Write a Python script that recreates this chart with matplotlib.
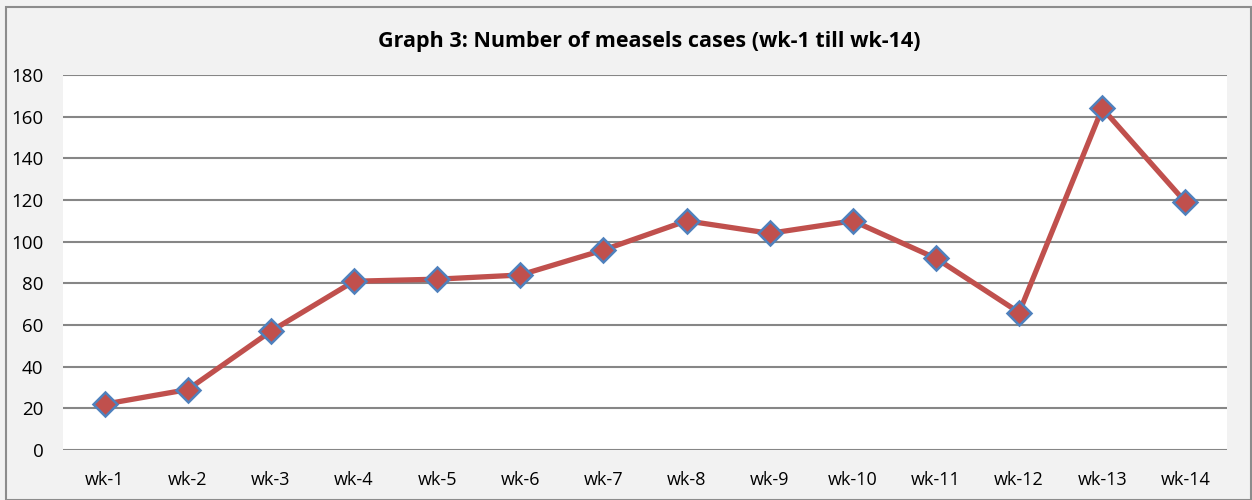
import matplotlib.pyplot as plt
from matplotlib.patches import Rectangle

weeks = ['wk-1', 'wk-2', 'wk-3', 'wk-4', 'wk-5', 'wk-6', 'wk-7',
         'wk-8', 'wk-9', 'wk-10', 'wk-11', 'wk-12', 'wk-13', 'wk-14']
cases = [22, 29, 57, 81, 82, 84, 96, 110, 104, 110, 92, 66, 164, 119]
y_ticks = list(range(0, 181, 20))


def draw():
    plt.rcParams['font.family'] = ['Open Sans', 'DejaVu Sans']
    fig = plt.figure(figsize=(12.52, 5.0), dpi=100, facecolor='#f2f2f2')
    fig.patches.append(Rectangle((6 / 1252, 0), 1 - 7 / 1252, 1 - 7 / 500,
                                 transform=fig.transFigure, fill=False,
                                 edgecolor='#8c8c8c', linewidth=1.5))
    ax = fig.add_axes([63 / 1252, 50 / 500, 1164 / 1252, 375 / 500])
    ax.set_facecolor('white')

    x = list(range(len(weeks)))
    ax.plot(x, cases, color='#c0504d', linewidth=3.8, marker='D',
            markersize=12, markerfacecolor='#c0504d',
            markeredgecolor='#4f81bd', markeredgewidth=1.8, zorder=3)

    ax.set_xlim(-0.5, len(weeks) - 0.5)
    ax.set_ylim(0, 180)
    ax.set_yticks(y_ticks)
    ax.set_xticks(x)
    ax.set_xticklabels(weeks)
    ax.grid(axis='y', color='#868686', linewidth=1.5)
    ax.set_axisbelow(True)
    for s in ax.spines.values():
        s.set_visible(False)
    ax.tick_params(length=0, labelsize=13, colors='black')
    ax.tick_params(axis='y', labelsize=13.5, pad=14)
    ax.tick_params(axis='x', pad=15)
    fig.text(649 / 1252, 1 - 42 / 500,
             'Graph 3: Number of measels cases (wk-1 till wk-14)',
             ha='center', va='center', fontsize=15.5, fontweight='bold')
    fig.savefig('out.png', dpi=100, facecolor=fig.get_facecolor())


if __name__ == '__main__':
    draw()
